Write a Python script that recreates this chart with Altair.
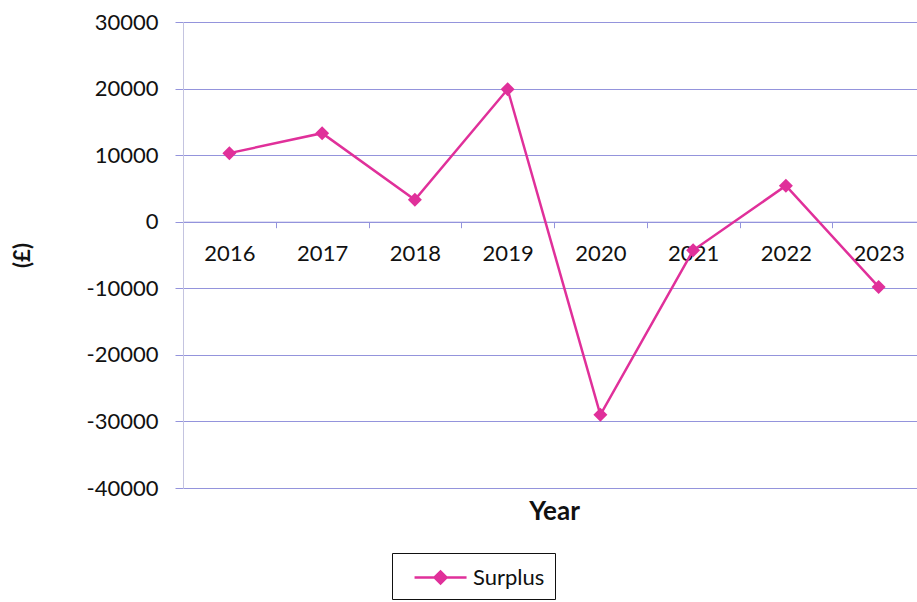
import altair as alt
import pandas as pd

years = ["2016", "2017", "2018", "2019", "2020", "2021", "2022", "2023"]
surplus = [10300, 13300, 3300, 19900, -29000, -4300, 5400, -9800]
series = ["Surplus"] * len(years)
y_ticks = [-40000, -30000, -20000, -10000, 0, 10000, 20000, 30000]

df = pd.DataFrame({"Year": years, "Surplus": surplus, "Series": series})

W, H = 734, 466
ZERO_Y = H * 30 / 70
PINK = "#e0309a"
GRID = "#9494dc"
FONT = "Lato"

legend_path = "M-0.15,0L3.85,0M1.39,0L1.85,-0.46L2.31,0L1.85,0.46Z"

chart = alt.Chart(df).mark_line(
    strokeWidth=2.5,
    point=alt.OverlayMarkDef(shape="diamond", size=196, filled=True, opacity=1),
).encode(
    x=alt.X(
        "Year:N",
        sort=years,
        scale=alt.Scale(type="band", range=[0, 742], paddingInner=0, paddingOuter=0),
        axis=alt.Axis(
            title="Year", titleFont=FONT, titleFontSize=26, titleFontWeight="bold",
            titleColor="#111", titleX=371, titleY=290, titleAlign="center",
            titleBaseline="middle",
            labelFont=FONT, labelFontSize=22, labelColor="#111", labelAngle=0,
            labelPadding=16, tickSize=6, tickColor=GRID, domainColor=GRID,
            grid=False, tickBand="extent", offset=-(H - ZERO_Y),
        ),
    ),
    y=alt.Y(
        "Surplus:Q",
        scale=alt.Scale(domain=[-40000, 30000], nice=False, zero=False),
        axis=alt.Axis(
            values=y_ticks, labelExpr="'' + datum.value",
            title="(£)", titleFont=FONT, titleFontSize=22, titleFontWeight="bold",
            titleColor="#111", titleAngle=-90, titleX=-161, titleY=H / 2,
            titleAlign="center", titleBaseline="middle",
            labelFont=FONT, labelFontSize=22, labelColor="#111", labelPadding=17,
            tickSize=8, tickColor=GRID, gridColor=GRID, domainColor="#c4c4e0",
        ),
    ),
    color=alt.Color(
        "Series:N",
        scale=alt.Scale(range=[PINK]),
        legend=alt.Legend(
            title=None, orient="none", legendX=209, legendY=531,
            strokeColor="#111", padding=10,
            symbolType=legend_path, symbolSize=676, symbolStrokeWidth=2.5,
            symbolFillColor=PINK, symbolStrokeColor=PINK, symbolOpacity=1,
            labelFont=FONT, labelFontSize=22, labelColor="#111", labelOffset=42,
        ),
    ),
).properties(
    width=W, height=H, autosize="none",
    padding={"left": 183, "top": 22, "right": 0, "bottom": 114},
).configure_view(stroke=None)

chart.save("out.html", embed_options={"renderer": "svg", "actions": False})
